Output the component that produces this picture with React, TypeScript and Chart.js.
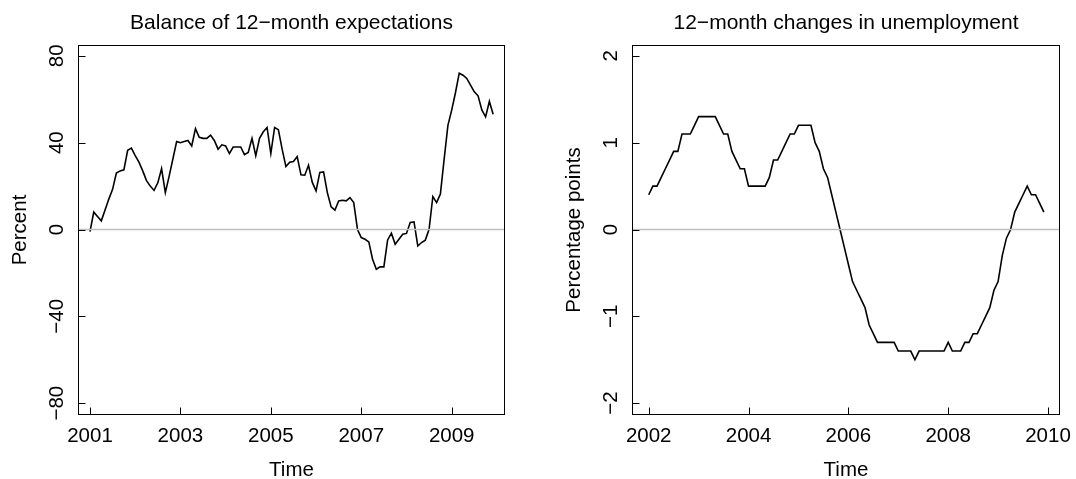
import React, { useEffect, useRef } from "react";
import { Chart, registerables } from "chart.js";

Chart.register(...registerables);

// ---------- data ----------
const expectationsStartYear = 2001;
const expectationsValues = [
  -1, 8, 6, 4, 9, 14, 18.5, 26, 27, 27.5, 36.5, 37.5,
  34, 31, 27, 22.5, 20, 18, 21.5, 28, 17, 24.5, 32.5, 40.5,
  40, 40.5, 41, 38.5, 46.5, 42.5, 42, 42, 43.5, 41, 37, 39,
  38.5, 35, 38, 38, 38, 34.5, 35.5, 42, 34, 42, 45, 47,
  35, 47, 46, 37, 29, 31, 31.3, 33.6, 25.2, 25, 29.6, 21.7,
  17.8, 26.3, 26.5, 17, 10.4, 8.9, 13.2, 13.5, 13.2, 14.7, 12.4, 0,
  -3.7, -4.5, -5.7, -13.7, -18.3, -17.2, -17.2, -4.8, -1.7, -6.8, -4.5, -2.2,
  -1.8, 3.2, 3.5, -7.6, -6, -4.9, 0.1, 15.2, 12.4, 16.3, 32.4, 48,
  55, 63, 72, 71.1, 69.6, 66.5, 63.4, 61.6, 55.1, 51.9, 59, 53.1,
];

const unemploymentStartYear = 2002;
const unemploymentValues = [
  0.4, 0.5, 0.5, 0.6, 0.7, 0.8, 0.9, 0.9, 1.1, 1.1, 1.1, 1.2,
  1.3, 1.3, 1.3, 1.3, 1.3, 1.2, 1.1, 1.1, 0.9, 0.8, 0.7, 0.7,
  0.5, 0.5, 0.5, 0.5, 0.5, 0.6, 0.8, 0.8, 0.9, 1.0, 1.1, 1.1,
  1.2, 1.2, 1.2, 1.2, 1.0, 0.9, 0.7, 0.6, 0.4, 0.2, 0.0, -0.2,
  -0.4, -0.6, -0.7, -0.8, -0.9, -1.1, -1.2, -1.3, -1.3, -1.3, -1.3, -1.3,
  -1.4, -1.4, -1.4, -1.4, -1.5, -1.4, -1.4, -1.4, -1.4, -1.4, -1.4, -1.4,
  -1.3, -1.4, -1.4, -1.4, -1.3, -1.3, -1.2, -1.2, -1.1, -1.0, -0.9, -0.7,
  -0.6, -0.3, -0.1, 0.0, 0.2, 0.3, 0.4, 0.5, 0.4, 0.4, 0.3, 0.2,
];

const leftXTicks = [2001, 2003, 2005, 2007, 2009];
const rightXTicks = [2002, 2004, 2006, 2008, 2010];
const leftYTicks = [-80, -40, 0, 40, 80];
const rightYTicks = [-2, -1, 0, 1, 2];

const leftTitle = "Balance of 12\u2212month expectations";
const rightTitle = "12\u2212month changes in unemployment";
const leftYLabel = "Percent";
const rightYLabel = "Percentage points";
const xAxisLabel = "Time";

// ---------- styling ----------
const FAMILY = '"Liberation Sans", Arial, Helvetica, sans-serif';
const FONT = "20.5px " + FAMILY;
const TITLE_FONT = "21px " + FAMILY;
const W = 538;
const H = 479;

function fmt(v: number): string {
  return v < 0 ? "\u2212" + Math.abs(v) : String(v);
}

const rStylePlugin = {
  id: "rstyle",
  afterDraw(chart: any, _args: any, opts: any) {
    const { ctx, chartArea: a, scales } = chart;
    const xs = scales.x;
    const ys = scales.y;
    ctx.save();
    ctx.strokeStyle = "#000";
    ctx.lineWidth = 1;
    const L = Math.round(a.left) + 0.5;
    const R = Math.round(a.right) + 0.5;
    const T = Math.round(a.top) + 0.5;
    const B = Math.round(a.bottom) + 0.5;
    ctx.strokeRect(L, T, R - L, B - T);
    const tick = 7;
    ctx.beginPath();
    for (const t of opts.xTicks) {
      const px = Math.round(xs.getPixelForValue(t)) + 0.5;
      ctx.moveTo(px, B);
      ctx.lineTo(px, B - tick);
    }
    for (const t of opts.yTicks) {
      const py = Math.round(ys.getPixelForValue(t)) + 0.5;
      ctx.moveTo(L, py);
      ctx.lineTo(L + tick, py);
    }
    ctx.stroke();

    ctx.fillStyle = "#000";
    ctx.font = FONT;
    ctx.textBaseline = "alphabetic";
    ctx.textAlign = "center";
    for (const t of opts.xTicks) {
      ctx.fillText(String(t), xs.getPixelForValue(t), B + 27);
    }
    for (const t of opts.yTicks) {
      ctx.save();
      ctx.translate(L - 16, ys.getPixelForValue(t));
      ctx.rotate(-Math.PI / 2);
      ctx.fillText(fmt(t), 0, 0);
      ctx.restore();
    }
    const cx = (L + R) / 2;
    ctx.fillText(opts.xTitle, cx, B + 61);
    ctx.save();
    ctx.translate(L - 53, (T + B) / 2);
    ctx.rotate(-Math.PI / 2);
    ctx.fillText(opts.yTitle, 0, 0);
    ctx.restore();
    ctx.font = TITLE_FONT;
    ctx.fillText(opts.title, cx, 29);
    ctx.restore();
  },
};

type PanelProps = {
  start: number;
  values: number[];
  xMin: number;
  xMax: number;
  yMin: number;
  yMax: number;
  xTicks: number[];
  yTicks: number[];
  title: string;
  yTitle: string;
  padding: { left: number; right: number; top: number; bottom: number };
};

function Panel(p: PanelProps) {
  const ref = useRef<HTMLCanvasElement | null>(null);
  useEffect(() => {
    if (!ref.current) return;
    const series = p.values.map((v, i) => ({ x: p.start + i / 12, y: v }));
    const zeroLine = [
      { x: p.xMin, y: 0 },
      { x: p.xMax, y: 0 },
    ];
    const chart = new Chart(ref.current, {
      type: "line",
      data: {
        datasets: [
          {
            data: zeroLine,
            borderColor: "#bebebe",
            borderWidth: 1.3,
            pointRadius: 0,
            tension: 0,
          },
          {
            data: series,
            borderColor: "#000000",
            borderWidth: 1.6,
            pointRadius: 0,
            tension: 0,
          },
        ],
      },
      options: {
        animation: false,
        responsive: false,
        devicePixelRatio: 1,
        layout: { padding: p.padding },
        scales: {
          x: { type: "linear", min: p.xMin, max: p.xMax, display: false },
          y: { type: "linear", min: p.yMin, max: p.yMax, display: false },
        },
        plugins: {
          legend: { display: false },
          tooltip: { enabled: false },
          rstyle: {
            xTicks: p.xTicks,
            yTicks: p.yTicks,
            title: p.title,
            yTitle: p.yTitle,
            xTitle: xAxisLabel,
          },
        } as any,
      },
      plugins: [rStylePlugin as any],
    } as any);
    return () => chart.destroy();
  }, []);
  return <canvas ref={ref} width={W} height={H} style={{ width: W, height: H, display: "block" }} />;
}

export default function App() {
  return (
    <div
      style={{
        position: "absolute",
        left: 0,
        top: 0,
        width: 1076,
        height: 479,
        display: "flex",
        background: "#ffffff",
      }}
    >
      <Panel
        start={expectationsStartYear}
        values={expectationsValues}
        xMin={2000.735}
        xMax={2010.157}
        yMin={-85}
        yMax={85}
        xTicks={leftXTicks}
        yTicks={leftYTicks}
        title={leftTitle}
        yTitle={leftYLabel}
        padding={{ left: 78, right: 34, top: 45, bottom: 65 }}
      />
      <Panel
        start={unemploymentStartYear}
        values={unemploymentValues}
        xMin={2001.665}
        xMax={2010.22}
        yMin={-2.125}
        yMax={2.125}
        xTicks={rightXTicks}
        yTicks={rightYTicks}
        title={rightTitle}
        yTitle={rightYLabel}
        padding={{ left: 94, right: 17, top: 45, bottom: 65 }}
      />
    </div>
  );
}
